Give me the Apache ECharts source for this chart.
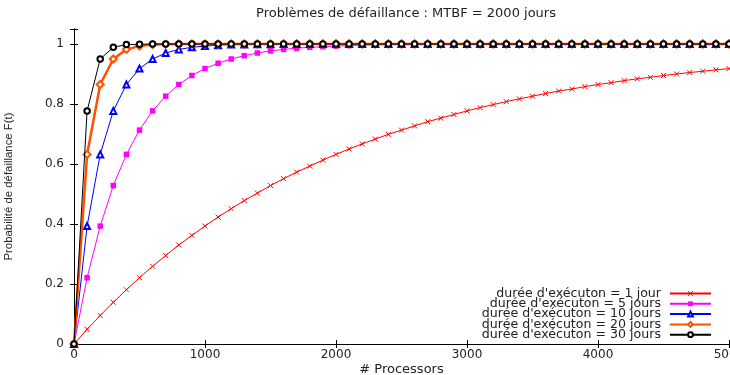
<!DOCTYPE html>
<html>
<head>
<meta charset="utf-8">
<script src="https://cdn.jsdelivr.net/npm/echarts@6/dist/echarts.min.js"></script>
<style>html,body{margin:0;padding:0;background:#fff}#c{width:730px;height:375px}</style>
</head>
<body>
<div id="c"></div>
<script>
const processors = [0,100,200,300,400,500,600,700,800,900,1000,1100,1200,1300,1400,1500,1600,1700,1800,1900,2000,2100,2200,2300,2400,2500,2600,2700,2800,2900,3000,3100,3200,3300,3400,3500,3600,3700,3800,3900,4000,4100,4200,4300,4400,4500,4600,4700,4800,4900,5000];
const jour1 = [0,0.049,0.095,0.139,0.181,0.221,0.259,0.295,0.330,0.362,0.393,0.423,0.451,0.478,0.503,0.528,0.551,0.573,0.593,0.613,0.632,0.650,0.667,0.683,0.699,0.713,0.727,0.741,0.753,0.765,0.777,0.788,0.798,0.808,0.817,0.826,0.835,0.843,0.850,0.858,0.865,0.871,0.878,0.884,0.889,0.895,0.900,0.905,0.909,0.914,0.918];
const jours5 = [0,0.221,0.393,0.528,0.632,0.713,0.777,0.826,0.865,0.895,0.918,0.936,0.950,0.961,0.970,0.977,0.982,0.986,0.989,0.991,0.993,0.995,0.996,0.997,0.998,0.998,0.998,0.999,0.999,0.999,0.999,0.999,1,1,1,1,1,1,1,1,1,1,1,1,1,1,1,1,1,1,1];
const jours10 = [0,0.393,0.632,0.777,0.865,0.918,0.950,0.970,0.982,0.989,0.993,0.996,0.998,0.998,0.999,0.999,1,1,1,1,1,1,1,1,1,1,1,1,1,1,1,1,1,1,1,1,1,1,1,1,1,1,1,1,1,1,1,1,1,1,1];
const jours20 = [0,0.632,0.865,0.950,0.982,0.993,0.998,0.999,1,1,1,1,1,1,1,1,1,1,1,1,1,1,1,1,1,1,1,1,1,1,1,1,1,1,1,1,1,1,1,1,1,1,1,1,1,1,1,1,1,1,1];
const jours30 = [0,0.777,0.950,0.989,0.998,0.999,1,1,1,1,1,1,1,1,1,1,1,1,1,1,1,1,1,1,1,1,1,1,1,1,1,1,1,1,1,1,1,1,1,1,1,1,1,1,1,1,1,1,1,1,1];
const seriesNames = ["durée d'exécuton = 1 jour","durée d'exécuton = 5 jours","durée d'exécuton = 10 jours","durée d'exécuton = 20 jours","durée d'exécuton = 30 jours"];
const xTicks = [0,1000,2000,3000,4000,5000];
const yTicks = [0,0.2,0.4,0.6,0.8,1];

const zip = arr => processors.map((p,i)=>[p,arr[i]]);
const font = 'DejaVu Sans';
const axisCommonX = {
  type:'value', min:0, max:5000, interval:1000,
  axisLine:{show:true,lineStyle:{color:'#000',width:1}},
  axisTick:{show:true,inside:true,length:4,lineStyle:{color:'#000'}},
  splitLine:{show:false}
};
const axisCommonY = {
  type:'value', min:0, max:1.05, interval:0.2,
  axisLine:{show:true,lineStyle:{color:'#000',width:1}},
  axisTick:{show:true,inside:true,length:4,lineStyle:{color:'#000'}},
  splitLine:{show:false}
};
const chart = echarts.init(document.getElementById('c'));
chart.setOption({
  backgroundColor:'#fff',
  animation:false,
  title:{text:'Problèmes de défaillance : MTBF = 2000 jours',left:401,top:2,textAlign:'center',
    textStyle:{fontFamily:font,fontSize:13,fontWeight:'normal',color:'#222'}},
  grid:{left:74,right:1,top:29,bottom:31,containLabel:false,outerBoundsMode:'none'},
  legend:{orient:'vertical',align:'right',right:13,top:282,itemWidth:41,itemHeight:6,itemGap:-2.7,
    itemStyle:{borderWidth:1},
    textStyle:{fontFamily:font,fontSize:12.6,color:'#222',lineHeight:10,padding:[0,4,0,0]},
    data:seriesNames},
  xAxis:[
    Object.assign({},axisCommonX,{position:'bottom',name:'# Processors',nameLocation:'middle',nameGap:19,
      nameMoveOverlap:false,
      nameTextStyle:{fontFamily:font,fontSize:13,color:'#222'},
      axisLabel:{fontFamily:font,fontSize:12,color:'#222',margin:5,
        formatter:v=>xTicks.indexOf(v)>=0?String(v):''}}),
    Object.assign({},axisCommonX,{position:'top',axisLabel:{show:false}})
  ],
  yAxis:[
    Object.assign({},axisCommonY,{position:'left',name:'Probabilité de défaillance F(t)',nameLocation:'middle',nameGap:60,
      nameMoveOverlap:false,
      nameTextStyle:{fontFamily:'Liberation Sans',fontSize:11.4,color:'#222'},
      axisLabel:{fontFamily:font,fontSize:12,color:'#222',margin:10,
        formatter:v=>{const r=Math.round(v*10)/10; return (v<=1.001 && yTicks.indexOf(r)>=0)?String(r):'';}}}),
    Object.assign({},axisCommonY,{position:'right',axisLabel:{show:false}})
  ],
  series:[
    {name:seriesNames[0],type:'line',data:zip(jour1),symbol:'path://M0,0L10,10M10,0L0,10',symbolSize:5,
      lineStyle:{color:'#ff0000',width:1},itemStyle:{color:'#ff0000',borderColor:'#ff0000',borderWidth:1},z:2},
    {name:seriesNames[1],type:'line',data:zip(jours5),symbol:'rect',symbolSize:5.5,
      lineStyle:{color:'#ff00ff',width:1},itemStyle:{color:'#ff00ff'},z:3},
    {name:seriesNames[2],type:'line',data:zip(jours10),symbol:'emptyTriangle',symbolSize:6,
      lineStyle:{color:'#0000ff',width:1},itemStyle:{color:'#0000ff',borderColor:'#0000ff',borderWidth:1},z:4},
    {name:seriesNames[3],type:'line',data:zip(jours20),symbol:'emptyDiamond',symbolSize:7,
      lineStyle:{color:'#ff5000',width:2.5},itemStyle:{color:'#ff5000',borderColor:'#ff5000',borderWidth:1},z:5},
    {name:seriesNames[4],type:'line',data:zip(jours30),symbol:'emptyCircle',symbolSize:5.5,
      lineStyle:{color:'#000',width:1},itemStyle:{color:'#000',borderColor:'#000',borderWidth:1},z:6}
  ]
});
</script>
</body>
</html>
